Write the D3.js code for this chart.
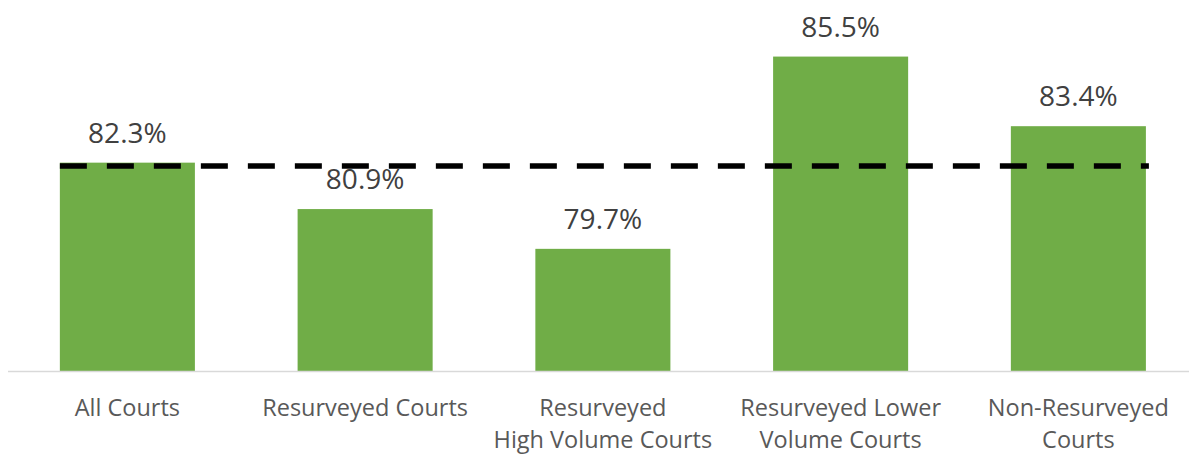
<!DOCTYPE html>
<html>
<head>
<meta charset="utf-8">
<script src="https://cdn.jsdelivr.net/npm/d3@7"></script>
<style>
  html, body { margin: 0; padding: 0; background: #fff; }
  svg { display: block; }
</style>
</head>
<body>
<svg id="chart" width="1189" height="454"></svg>
<script>
// Share of courts meeting the measure, by court group
const categories = [
  ["All Courts"],
  ["Resurveyed Courts"],
  ["Resurveyed", "High Volume Courts"],
  ["Resurveyed Lower", "Volume Courts"],
  ["Non-Resurveyed", "Courts"]
];
const values = [82.3, 80.9, 79.7, 85.5, 83.4];
const referenceLine = [82.2];

const svg = d3.select("#chart");
const W = 1189, H = 454;
const baseY = 371.5;
const font = "'Open Sans', sans-serif";
const textColor = "#595959";

const x = d3.scaleBand()
  .domain(d3.range(categories.length))
  .range([8.5, 1197.25])
  .paddingInner(0.432)
  .paddingOuter(0.216);

const y = d3.scaleLinear()
  .domain([76, 86])
  .range([baseY, 40]);

// bars
svg.append("g").selectAll("rect")
  .data(values)
  .join("rect")
  .attr("x", (d, i) => x(i))
  .attr("width", x.bandwidth())
  .attr("y", d => y(d))
  .attr("height", d => baseY - y(d))
  .attr("fill", "#70ad47");

// category axis
const xAxis = d3.axisBottom(x).tickSize(0).tickFormat("");
const axisG = svg.append("g").attr("transform", `translate(0,${baseY})`).call(xAxis);
axisG.select(".domain").attr("stroke", "#d9d9d9").attr("stroke-width", 1.5)
  .attr("d", `M8,0H${W}`);

// category labels (wrapped lines)
const labels = svg.append("g").selectAll("text")
  .data(categories)
  .join("text")
  .attr("x", (d, i) => x(i) + x.bandwidth() / 2)
  .attr("y", 416)
  .attr("text-anchor", "middle")
  .attr("font-family", font)
  .attr("font-size", 23.5)
  .attr("fill", textColor);
labels.selectAll("tspan")
  .data(d => d)
  .join("tspan")
  .attr("x", function () { return this.parentNode.getAttribute("x"); })
  .attr("dy", (d, i) => i === 0 ? 0 : 32)
  .text(d => d);

// reference line
svg.append("line")
  .attr("x1", x(0))
  .attr("x2", x(categories.length - 1) + x.bandwidth() + 3)
  .attr("y1", y(referenceLine[0]))
  .attr("y2", y(referenceLine[0]))
  .attr("stroke", "#000")
  .attr("stroke-width", 5.5)
  .attr("stroke-dasharray", "27 20");

// value labels
svg.append("g").selectAll("text")
  .data(values)
  .join("text")
  .attr("x", (d, i) => x(i) + x.bandwidth() / 2)
  .attr("y", d => y(d) - 20)
  .attr("text-anchor", "middle")
  .attr("font-family", font)
  .attr("font-size", 28)
  .attr("fill", "#404040")
  .text(d => d.toFixed(1) + "%");
</script>
</body>
</html>
